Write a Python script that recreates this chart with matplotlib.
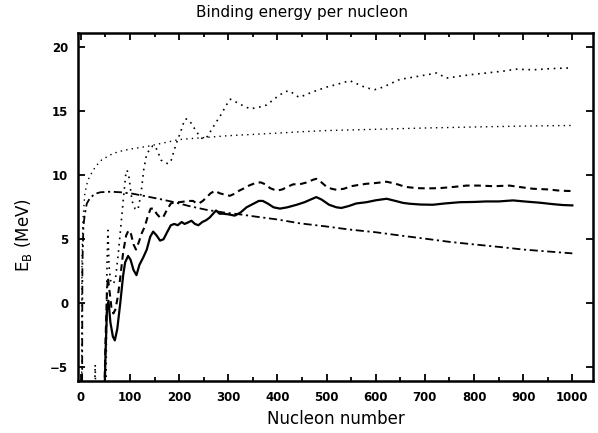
import matplotlib
matplotlib.use("Agg")
import matplotlib.pyplot as plt
from matplotlib.ticker import MultipleLocator

# ---- data ----
solid_x = [45, 50, 53, 56, 60, 65, 69, 74, 80, 86, 90, 96, 101, 107, 113, 119, 127, 134, 141, 147,
           154, 161, 168, 176, 183, 190, 197, 205, 211, 217, 225, 232, 239, 247, 255, 262, 269, 275,
           282, 290, 300, 313, 325, 337, 352, 362, 370, 380, 392, 405, 420, 439, 455, 470, 479, 490,
           505, 520, 530, 545, 560, 581, 600, 622, 640, 655, 669, 690, 716, 740, 771, 800, 825, 850,
           879, 905, 934, 960, 980, 1000]
solid_y = [-12, -4, -0.5, 0.2, -1.5, -2.6, -2.9, -2.0, 0.0, 2.2, 3.2, 3.7, 3.4, 2.6, 2.2, 3.0, 3.6,
           4.2, 5.2, 5.6, 5.3, 4.9, 5.0, 5.6, 6.1, 6.2, 6.1, 6.35, 6.2, 6.3, 6.45, 6.2, 6.1, 6.35,
           6.5, 6.7, 7.0, 7.25, 7.0, 7.0, 6.95, 6.85, 7.1, 7.5, 7.8, 8.0, 8.0, 7.8, 7.5, 7.4, 7.5,
           7.7, 7.9, 8.15, 8.3, 8.1, 7.7, 7.5, 7.45, 7.6, 7.8, 7.9, 8.05, 8.17, 8.0, 7.85, 7.78,
           7.72, 7.7, 7.8, 7.9, 7.92, 7.96, 7.96, 8.04, 7.95, 7.86, 7.75, 7.68, 7.65]

dashed_x = [45, 50, 53, 55, 58, 62, 66, 70, 75, 80, 86, 92, 97, 102, 107, 112, 118, 124, 130, 136,
            142, 148, 154, 161, 167, 175, 183, 191, 200, 210, 220, 228, 234, 240, 248, 256, 264,
            273, 282, 292, 303, 312, 322, 330, 342, 355, 366, 375, 385, 398, 410, 420, 432, 445,
            460, 472, 479, 488, 500, 510, 520, 535, 550, 565, 581, 600, 622, 640, 660, 683, 705,
            730, 760, 785, 810, 840, 872, 900, 920, 950, 975, 1000]
dashed_y = [-12, -3, 1.0, 2.0, 1.0, -0.3, -0.8, -0.5, 0.5, 2.0, 4.0, 5.3, 5.7, 5.4, 4.6, 4.2, 4.8,
            5.5, 6.0, 6.8, 7.4, 7.4, 7.0, 6.7, 6.7, 7.3, 7.8, 7.9, 7.9, 7.95, 8.0, 8.0, 7.85, 7.8,
            8.0, 8.3, 8.6, 8.8, 8.6, 8.5, 8.4, 8.55, 8.8, 8.95, 9.2, 9.4, 9.45, 9.3, 9.0, 8.8, 8.9,
            9.1, 9.3, 9.3, 9.45, 9.65, 9.73, 9.5, 9.1, 8.95, 8.87, 8.95, 9.15, 9.25, 9.34, 9.4,
            9.5, 9.35, 9.1, 9.0, 8.98, 9.0, 9.1, 9.2, 9.2, 9.15, 9.2, 9.05, 8.95, 8.9, 8.8, 8.77]

dashdot_x = [1, 3, 5, 8, 12, 18, 28, 40, 60, 80, 106, 130, 160, 190, 220, 256, 290, 323, 360, 400,
             445, 500, 547, 600, 649, 700, 750, 800, 852, 900, 950, 1000]
dashdot_y = [-30, 3, 6.0, 7.0, 7.8, 8.2, 8.55, 8.68, 8.72, 8.68, 8.56, 8.38, 8.15, 7.9, 7.6, 7.3,
             7.1, 6.95, 6.75, 6.55, 6.25, 6.0, 5.76, 5.55, 5.3, 5.05, 4.8, 4.6, 4.4, 4.2, 4.05, 3.9]

smooth_x = [1, 2, 4, 8, 14, 22, 30, 42, 60, 76, 100, 140, 200, 250, 300, 350, 400, 445, 500, 550,
            600, 700, 800, 900, 1000]
smooth_y = [-20, 3, 6.5, 8.6, 9.6, 10.2, 10.7, 11.2, 11.6, 11.85, 12.05, 12.3, 12.8, 12.95, 13.1,
            13.2, 13.3, 13.4, 13.5, 13.55, 13.6, 13.7, 13.78, 13.85, 13.9]

irr_x = [26, 29, 32, 50, 53, 55, 57, 60, 65, 70, 75, 80, 86, 91, 94, 98, 104, 110, 116, 122, 128,
         134, 140, 146, 151, 157, 163, 170, 178, 184, 190, 196, 203, 208, 212, 217, 225, 232, 239,
         246, 252, 259, 266, 276, 286, 296, 304, 312, 327, 344, 360, 378, 398, 415, 425, 439, 445,
         470, 500, 520, 547, 565, 580, 598, 615, 632, 649, 680, 710, 724, 744, 770, 800, 825, 860,
         886, 920, 960, 1000]
irr_y = [-12, -4.8, -12, -12, 3, 5.7, 3, 1.8, 1.5, 1.8, 3.5, 5.5, 8.0, 10.0, 10.4, 9.8, 8.0, 7.4,
         7.3, 8.5, 10.5, 11.7, 12.0, 12.3, 12.3, 11.8, 11.2, 11.0, 10.9, 11.2, 12.0, 12.7, 13.4,
         14.0, 14.4, 14.4, 14.05, 13.6, 13.2, 12.9, 12.84, 13.1, 13.6, 14.2, 14.8, 15.5, 15.95,
         15.8, 15.5, 15.2, 15.3, 15.5, 16.1, 16.55, 16.6, 16.2, 16.1, 16.5, 16.9, 17.1, 17.4,
         17.1, 16.85, 16.7, 16.9, 17.2, 17.5, 17.7, 17.9, 18.0, 17.6, 17.75, 17.9, 18.0, 18.15,
         18.3, 18.25, 18.35, 18.4]

title = "Binding energy per nucleon"
xlabel = "Nucleon number"
ylabel = r"E$_{\mathrm{B}}$ (MeV)"

# ---- figure ----
fig = plt.figure(figsize=(5.98, 4.33), dpi=100)
ax = fig.add_axes([0.1304, 0.1194, 0.8612, 0.8036])

k = "black"
ax.plot(irr_x, irr_y, color=k, lw=1.2, ls=(0, (1, 2.8)))
ax.plot(smooth_x, smooth_y, color=k, lw=1.0, ls=(0, (1, 3.0)))
ax.plot(dashdot_x, dashdot_y, color=k, lw=1.3, ls=(0, (4.5, 2, 1.2, 2)))
ax.plot(dashed_x, dashed_y, color=k, lw=1.5, ls=(0, (3.2, 2.2)))
ax.plot(solid_x, solid_y, color=k, lw=1.6)

ax.set_xlim(-6, 1042)
ax.set_ylim(-6.1, 21.1)

ax.xaxis.set_major_locator(MultipleLocator(100))
ax.xaxis.set_minor_locator(MultipleLocator(50))
ax.yaxis.set_major_locator(MultipleLocator(5))
ax.tick_params(which="both", direction="in", top=True, right=True, width=1.3)
ax.tick_params(which="major", length=5, labelsize=8.5, pad=7)
ax.tick_params(which="minor", length=3)
for lab in ax.get_xticklabels() + ax.get_yticklabels():
    lab.set_fontweight("bold")
for s in ax.spines.values():
    s.set_linewidth(1.8)

fig.text(0.505, 0.972, title, ha="center", va="center", fontsize=11)
ax.set_xlabel(xlabel, fontsize=12, labelpad=4)
ax.set_ylabel(ylabel, fontsize=12, labelpad=6)
ax.yaxis.set_label_coords(-0.085, 0.42)

fig.savefig("out.png", dpi=100)
